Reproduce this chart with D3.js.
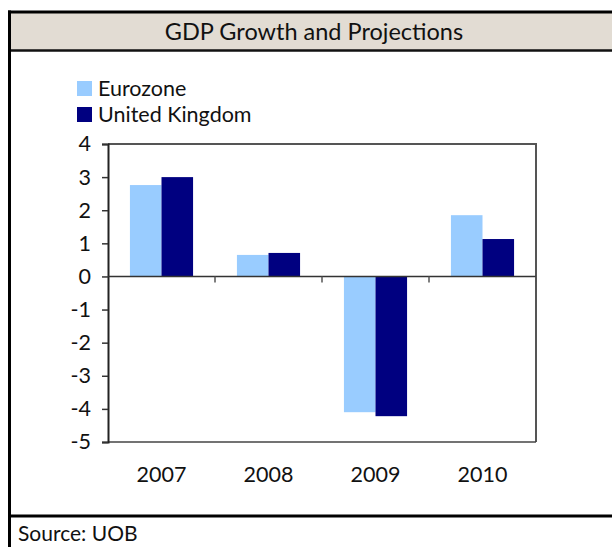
<!DOCTYPE html>
<html><head><meta charset="utf-8">
<script src="https://cdn.jsdelivr.net/npm/d3@7"></script>
<style>body{margin:0;background:#fff;}svg{display:block;font-family:"Lato","Open Sans",sans-serif;}</style>
</head><body>
<script>
const categories = ["2007","2008","2009","2010"];
const seriesNames = ["Eurozone","United Kingdom"];
const eurozone = [2.76, 0.65, -4.1, 1.85];
const unitedKingdom = [3.0, 0.71, -4.22, 1.13];
const yTicks = [4,3,2,1,0,-1,-2,-3,-4,-5];
const colors = ["#99CCFF","#000080"];
const title = "GDP Growth and Projections";
const source = "Source: UOB";

(function(){
const W = 612, H = 547;
const svg = d3.select("body").append("svg").attr("width", W).attr("height", H);

// frame
svg.append("rect").attr("x", 9.5).attr("y", 12).attr("width", 620).attr("height", 38)
  .attr("fill", "#e2dcd3").attr("stroke", "none");
svg.append("line").attr("x1", 8).attr("x2", 640).attr("y1", 12).attr("y2", 12).attr("stroke", "#000").attr("stroke-width", 3);
svg.append("line").attr("x1", 8).attr("x2", 640).attr("y1", 50.5).attr("y2", 50.5).attr("stroke", "#111").attr("stroke-width", 2.5);
svg.append("line").attr("x1", 9.5).attr("x2", 9.5).attr("y1", 10.5).attr("y2", H).attr("stroke", "#000").attr("stroke-width", 3);
svg.append("line").attr("x1", 8).attr("x2", 640).attr("y1", 516).attr("y2", 516).attr("stroke", "#000").attr("stroke-width", 3);

svg.append("text").attr("x", 314).attr("y", 40).attr("text-anchor", "middle")
  .attr("font-size", 23.5).attr("fill", "#111").text(title);
svg.append("text").attr("x", 18).attr("y", 541).attr("font-size", 21).attr("fill", "#111").text(source);

// plot
const pL = 108, pR = 536, pT = 144, pB = 442;
const x = d3.scaleBand().domain(categories).range([pL, pR]).paddingInner(0.41).paddingOuter(0.205);
const xs = d3.scaleBand().domain(seriesNames).range([0, x.bandwidth()]);
const y = d3.scaleLinear().domain([-5, 4]).range([pB, pT]);

// plot border (top, right)
svg.append("path").attr("d", `M${pL},${pT}H${pR}V${pB}`).attr("fill", "none")
  .attr("stroke", "#555").attr("stroke-width", 2);
svg.append("line").attr("x1", pL).attr("x2", pR).attr("y1", pB).attr("y2", pB)
  .attr("stroke", "#444").attr("stroke-width", 1.5);

const data = [eurozone, unitedKingdom];
seriesNames.forEach((s, si) => {
  svg.append("g").selectAll("rect").data(categories).join("rect")
    .attr("x", c => x(c) + xs(s))
    .attr("width", xs.bandwidth())
    .attr("y", (c, i) => y(Math.max(0, data[si][i])))
    .attr("height", (c, i) => Math.abs(y(data[si][i]) - y(0)))
    .attr("fill", colors[si]);
});

// y axis
const yAxis = svg.append("g").attr("transform", `translate(${pL},0)`)
  .call(d3.axisLeft(y).tickValues(yTicks).tickSize(6).tickPadding(11).tickFormat(d => String(d)));
yAxis.select(".domain").attr("stroke", "#222").attr("stroke-width", 2);
yAxis.selectAll(".tick line").attr("stroke", "#333").attr("stroke-width", 1.5);
yAxis.selectAll("text").attr("font-size", 21.5).attr("fill", "#111").attr("font-family", "Lato, sans-serif");

// zero line and category ticks
const bounds = d3.range(categories.length + 1).map(i => pL + i * (pR - pL) / categories.length);
svg.append("line").attr("x1", pL).attr("x2", pR).attr("y1", y(0)).attr("y2", y(0))
  .attr("stroke", "#333").attr("stroke-width", 1.5);
svg.append("g").selectAll("line").data(bounds.slice(1)).join("line")
  .attr("x1", d => d).attr("x2", d => d).attr("y1", y(0)).attr("y2", y(0) + 6)
  .attr("stroke", "#555").attr("stroke-width", 1.5);

// x labels
svg.append("g").selectAll("text").data(categories).join("text")
  .attr("x", c => x(c) + x.bandwidth() / 2).attr("y", 482)
  .attr("text-anchor", "middle").attr("font-size", 21.5).attr("fill", "#111").text(c => c);

// legend
const lg = svg.append("g");
seriesNames.forEach((s, i) => {
  lg.append("rect").attr("x", 77).attr("y", 81 + i * 26).attr("width", 15).attr("height", 15).attr("fill", colors[i]);
  lg.append("text").attr("x", 98).attr("y", 96 + i * 26).attr("font-size", 21.5).attr("fill", "#111").text(s);
});
})();
</script>
</body></html>
